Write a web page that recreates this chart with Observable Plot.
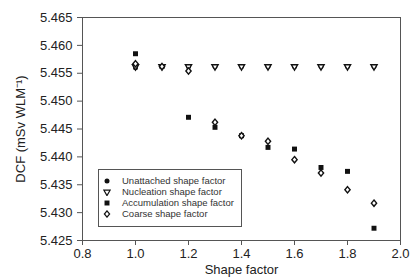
<!DOCTYPE html>
<html><head><meta charset="utf-8">
<script src="https://cdn.jsdelivr.net/npm/d3@7"></script>
<script src="https://cdn.jsdelivr.net/npm/@observablehq/plot@0.6"></script>
<style>
body{margin:0;background:#fff;}
#wrap{position:relative;width:411px;height:278px;font-family:"Liberation Sans",Arial,sans-serif;}
#legend{position:absolute;left:98px;top:169px;width:144px;height:58px;border:1px solid #555;box-sizing:border-box;background:#fff;font-size:9.5px;color:#333;padding-top:5px;}
.row{height:11px;display:flex;align-items:center;}
.row svg{margin-left:4px;margin-right:11px;}
</style></head>
<body><div id="wrap"><div id="chart"></div><div id="legend"></div></div>
<script>
const shapeFactor = [1.0, 1.1, 1.2, 1.3, 1.4, 1.5, 1.6, 1.7, 1.8, 1.9];
const unattached  = [5.4560, 5.4562, 5.4562, 5.4562, 5.4562, 5.4562, 5.4562, 5.4562, 5.4562, 5.4562];
const nucleation  = [5.4562, 5.4562, 5.4562, 5.4562, 5.4562, 5.4562, 5.4562, 5.4562, 5.4562, 5.4562];
const accumulation= [5.4585, 5.4562, 5.4471, 5.4453, 5.4438, 5.4417, 5.4414, 5.4381, 5.4374, 5.4272];
const coarse      = [5.4567, 5.4562, 5.4554, 5.4462, 5.4438, 5.4428, 5.4395, 5.4371, 5.4341, 5.4317];
const seriesNames = ["Unattached shape factor", "Nucleation shape factor", "Accumulation shape factor", "Coarse shape factor"];
const xTicks = [0.8, 1.0, 1.2, 1.4, 1.6, 1.8, 2.0];
const yTicks = [5.425, 5.430, 5.435, 5.440, 5.445, 5.450, 5.455, 5.460, 5.465];

// slightly tall diamond like the reference
const diamondSym = {draw(ctx, size) {
  const a = Math.sqrt(size / 2.4), b = 1.2 * a;
  ctx.moveTo(0, -b); ctx.lineTo(a, 0); ctx.lineTo(0, b); ctx.lineTo(-a, 0); ctx.closePath();
}};
const styles = [
  {symbol: d3.symbolCircle, fill: "#111", stroke: "none", rotate: 0, r: 2.5},
  {symbol: d3.symbolTriangle, fill: "white", stroke: "#111", rotate: 180, r: 2.3},
  {symbol: d3.symbolSquare, fill: "#111", stroke: "none", rotate: 0, r: 2.8},
  {symbol: diamondSym, fill: "white", stroke: "#111", rotate: 0, r: 2.3}
];
const values = [unattached, nucleation, accumulation, coarse];
const data = seriesNames.map((s, i) => shapeFactor.map((x, j) => ({series: s, x, y: values[i][j]})));

const chart = Plot.plot({
  width: 411, height: 278,
  marginLeft: 82, marginRight: 11, marginTop: 17, marginBottom: 38,
  style: {fontFamily: "Liberation Sans, Arial, sans-serif", fontSize: "13px", color: "#222", background: "white"},
  x: {domain: [0.8, 2.0]},
  y: {domain: [5.425, 5.465]},
  marks: [
    Plot.frame({stroke: "#555"}),
    Plot.axisX({ticks: xTicks, tickFormat: d3.format(".1f"), tickSize: 5, tickPadding: 3, label: "Shape factor", labelAnchor: "center", labelArrow: "none", labelOffset: 33, fontSize: 13, stroke: "#555"}),
    Plot.axisY({ticks: yTicks, tickFormat: d3.format(".3f"), tickSize: 5, tickPadding: 5, label: "DCF (mSv WLM⁻¹)", labelAnchor: "center", labelArrow: "none", labelOffset: 67, fontSize: 13, stroke: "#555"}),
    ...data.map((d, i) => Plot.dot(d, {x: "x", y: "y", symbol: () => styles[i].symbol, r: styles[i].r, fill: styles[i].fill, stroke: styles[i].stroke, strokeWidth: 1.4, rotate: styles[i].rotate}))
  ]
});
document.getElementById("chart").appendChild(chart);

const legend = d3.select("#legend");
seriesNames.forEach((name, i) => {
  const st = styles[i];
  const row = legend.append("div").attr("class", "row");
  const svg = row.append("svg").attr("width", 8).attr("height", 8);
  svg.append("path").attr("d", d3.symbol(st.symbol, Math.PI * st.r * st.r)())
    .attr("transform", `translate(4,4) rotate(${st.rotate})`)
    .attr("fill", st.fill).attr("stroke", st.stroke).attr("stroke-width", 1.2);
  row.append("span").text(name);
});
</script></body></html>
